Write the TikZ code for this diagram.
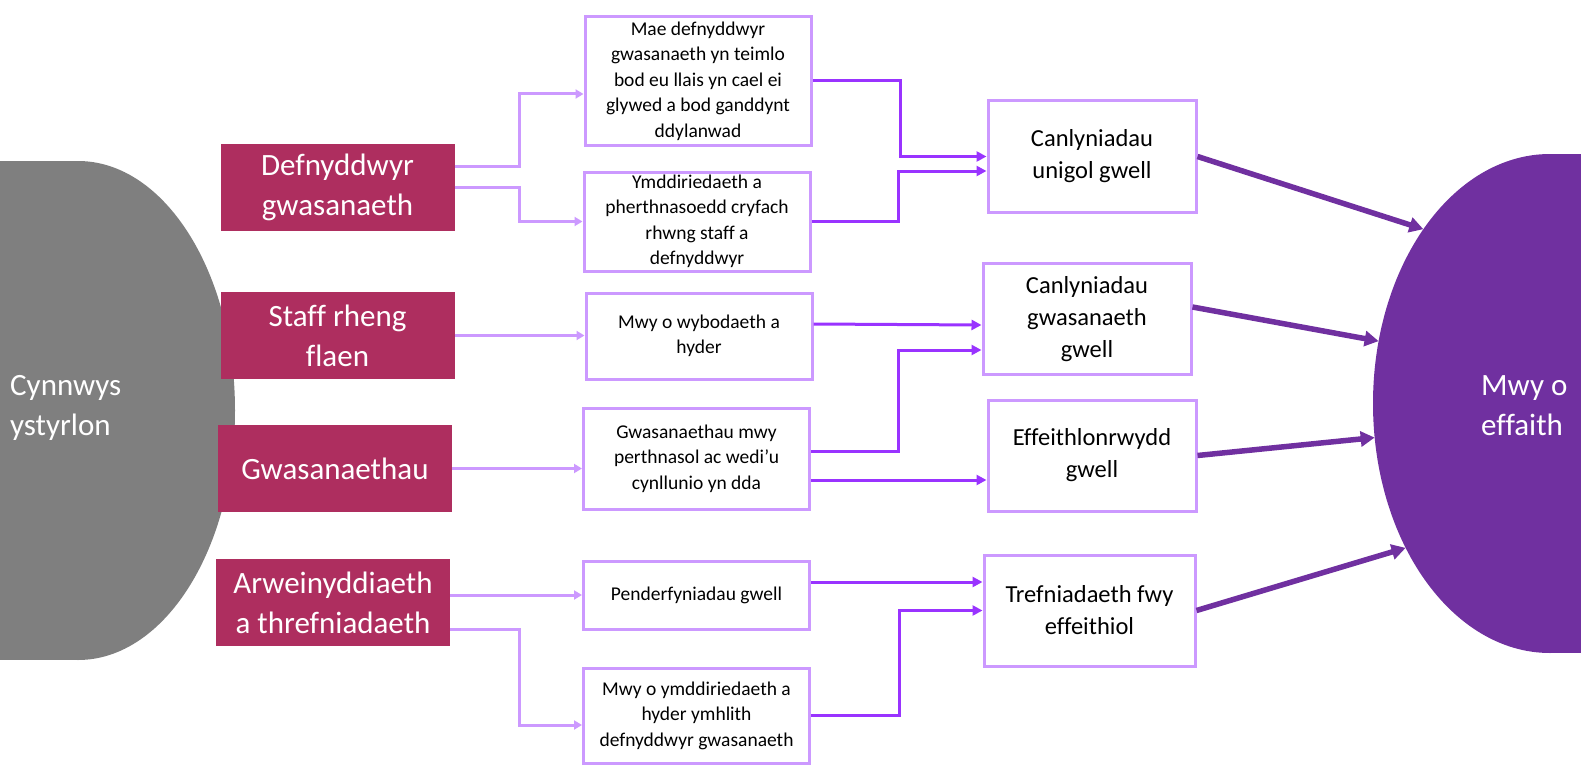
\documentclass[tikz,border=0pt]{standalone}
\usepackage{fontspec}
\setmainfont{Carlito}[Ligatures=NoCommon]
\usetikzlibrary{arrows.meta,shapes.geometric}
\definecolor{raspberry}{HTML}{AE2E5F}
\definecolor{slate}{HTML}{7F7F7F}
\definecolor{lilac}{HTML}{CC99FF}
\definecolor{brightviolet}{HTML}{9933FF}
\definecolor{deeppurple}{HTML}{7030A0}
\begin{document}
\begin{tikzpicture}[x=1pt,y=-1pt,
  sourcebox/.style={fill=raspberry,text=white,inner sep=0pt,minimum width=234pt,minimum height=87pt,align=center,font=\fontsize{31}{40}\selectfont},
  stepnote/.style={draw=lilac,line width=3pt,fill=white,inner sep=0pt,minimum width=226pt,align=center,font=\fontsize{19.5}{25.5}\selectfont},
  resultbox/.style={draw=lilac,line width=3pt,fill=white,inner sep=0pt,minimum width=208pt,minimum height=111pt,align=center,font=\fontsize{24.5}{32}\selectfont},
  bigblob/.style={ellipse,inner sep=0pt,outer sep=0pt,minimum height=499pt},
  bloblabel/.style={text=white,inner sep=0pt,align=left,anchor=west,font=\fontsize{31}{40}\selectfont},
  litelink/.style={draw=lilac,line width=3pt,-{Triangle[length=8pt,width=9pt]}},
  darklink/.style={draw=brightviolet,line width=3pt,-{Triangle[length=10pt,width=10pt]}},
  deeplink/.style={draw=deeppurple,line width=5.5pt,-{Triangle[length=14pt,width=15pt]}}]
\useasboundingbox (0,0) rectangle (1581,765);
\clip (0,0) rectangle (1581,765);
% grey and purple ends
\node[bigblob,fill=slate,minimum width=314pt](content) at (78,410.5){};
\fill[slate](content.north) rectangle ++(-100,499);
\node[bloblabel](contentlabel) at (10,408){Cynnwys\\ystyrlon};
\node[bigblob,fill=deeppurple,minimum width=354pt](impact) at (1550,403.5){};
\fill[deeppurple](impact.north) rectangle ++(100,499);
\node[bloblabel](impactlabel) at (1481,406){Mwy o\\effaith};
% sources
\node[sourcebox](users) at (337.5,187){Defnyddwyr\\gwasanaeth};
\node[sourcebox](staff) at (337.5,335.5){Staff rheng\\flaen};
\node[sourcebox](services) at (335,468.5){Gwasanaethau};
\node[sourcebox](leaders) at (333,602.5){Arweinyddiaeth\\a threfniadaeth};
% middle steps
\node[stepnote,minimum height=128pt](voice) at (698,81){Mae defnyddwyr\\gwasanaeth yn teimlo\\bod eu llais yn cael ei\\glywed a bod ganddynt\\ddylanwad};
\node[stepnote,minimum height=99pt](trust) at (697,221.5){Ymddiriedaeth a\\pherthnasoedd cryfach\\rhwng staff a\\defnyddwyr};
\node[stepnote,minimum height=86pt](know) at (699,336){Mwy o wybodaeth a\\hyder};
\node[stepnote,minimum height=101pt](fit) at (696.5,458.5){Gwasanaethau mwy\\perthnasol ac wedi’u\\cynllunio yn dda};
\node[stepnote,minimum height=68pt](decide) at (696.5,595){Penderfyniadau gwell};
\node[stepnote,minimum height=95pt](confide) at (696.5,715.5){Mwy o ymddiriedaeth a\\hyder ymhlith\\defnyddwyr gwasanaeth};
% results
\node[resultbox](personal) at (1092,156.5){Canlyniadau\\unigol gwell};
\node[resultbox](service) at (1087,319){Canlyniadau\\gwasanaeth\\gwell};
\node[resultbox](efficient) at (1092,455.5){Effeithlonrwydd\\gwell};
\node[resultbox,minimum width=211pt](organise) at (1089.5,610.5){Trefniadaeth fwy\\effeithiol};
% sources to steps
\draw[litelink]([yshift=21pt]users.east)--++(65,0)|-([yshift=-13pt]voice.west);
\draw[litelink](users.east)--++(65,0)|-(trust.west);
\draw[litelink](staff.east)--(staff.east -| know.west);
\draw[litelink](services.east)--(services.east -| fit.west);
\draw[litelink](leaders.east |- decide.west)--(decide.west);
\draw[litelink]([yshift=-27pt]leaders.east)--++(69,0)|-([yshift=-9.5pt]confide.west);
% steps to results
\draw[darklink](voice.east)--++(88,0)|-(personal.west);
\draw[darklink](trust.east)--++(87,0)|-([yshift=-14.5pt]personal.west);
\draw[darklink]([yshift=12pt]know.east)--([yshift=-6pt]service.west);
\draw[darklink]([yshift=7.5pt]fit.east)--++(87,0)|-([yshift=-31pt]service.west);
\draw[darklink]([yshift=-21.5pt]fit.east)--([yshift=-24.5pt]efficient.west);
\draw[darklink]([yshift=13pt]decide.east)--([yshift=28.5pt]organise.west);
\draw[darklink](confide.east)--++(88,0)|-(organise.west);
% results to impact
\draw[deeplink](personal.east)--(impact.126);
\draw[deeplink]([yshift=12pt]service.east)--(impact.160);
\draw[deeplink](efficient.east)--(impact.191);
\draw[deeplink](organise.east)--(impact.225);
\end{tikzpicture}
\end{document}
